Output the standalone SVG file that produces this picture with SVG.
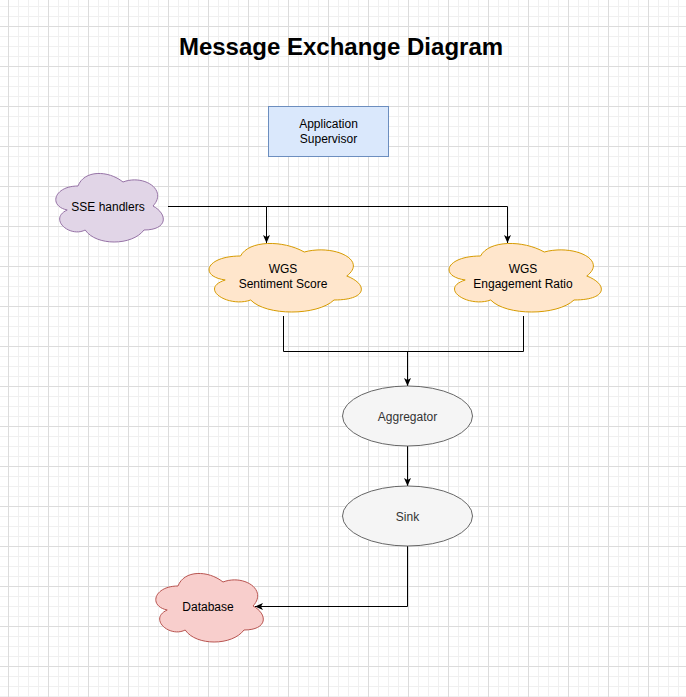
<svg xmlns="http://www.w3.org/2000/svg" width="686" height="697" viewBox="0 0 686 697">
<style>
text{font-family:"Liberation Sans",Arial,Helvetica,sans-serif;font-size:12px;fill:#000;text-anchor:middle}
.title{font-size:24px;font-weight:bold}
.edge{fill:none;stroke:#000;stroke-width:1;marker-end:url(#arr)}
.plain{fill:none;stroke:#000;stroke-width:1}
.gray{fill:#f5f5f5;stroke:#666666;stroke-width:1}
.gtext{fill:#333333}
</style>
<defs>
<pattern id="grid" patternUnits="userSpaceOnUse" x="8" y="26" width="40" height="40">
<path d="M10.5,0V40M20.5,0V40M30.5,0V40M0,10.5H40M0,20.5H40M0,30.5H40" stroke="#f0f0f0" stroke-width="1" fill="none"/>
<path d="M0.5,0V40M0,0.5H40" stroke="#dcdcdc" stroke-width="1" fill="none"/>
</pattern>
<marker id="arr" viewBox="0 0 8 8" refX="8" refY="4" markerWidth="8" markerHeight="8" markerUnits="userSpaceOnUse" orient="auto">
<path d="M0,0.5 L8,4 L0,7.5 L2,4 Z" fill="#000"/>
</marker>
</defs>
<rect width="686" height="697" fill="#ffffff"/>
<rect width="686" height="697" fill="url(#grid)"/>
<text class="title" x="341" y="55">Message Exchange Diagram</text>
<g id="connectors">
<path class="edge" d="M168,206.5 H266.5 V243"/>
<path class="edge" d="M266.5,206.5 H507.5 V243"/>
<path class="plain" d="M283.5,316 V351.5 H523.5 V316"/>
<path class="edge" d="M407.5,351.5 V386"/>
<path class="edge" d="M407.5,446 V486"/>
<path class="edge" d="M407.5,546 V606.5 H255"/>
</g>
<g id="app-supervisor">
<rect x="268.5" y="106.5" width="120" height="50" fill="#dae8fc" stroke="#6c8ebf"/>
<text x="328.5" y="128">Application</text>
<text x="328.5" y="143">Supervisor</text>
</g>
<g id="sse-handlers">
<path d="M78,186 C54,186 48,206 67.2,210 C48,218.8 69.6,238 85.2,230 C96,246 132,246 144,230 C168,230 168,214 153,206 C168,190 144,174 123,182 C108,170 84,170 78,186 Z" fill="#e1d5e7" stroke="#9673a6"/>
<text x="108" y="211">SSE handlers</text>
</g>
<g id="wgs-sentiment">
<path d="M240.5,256 C206.5,256 198,276 225.2,280 C198,288.8 228.6,308 250.7,300 C266,316 317,316 334,300 C368,300 368,284 346.75,276 C368,260 334,244 304.25,252 C283,240 249,240 240.5,256 Z" fill="#ffe6cc" stroke="#d79b00"/>
<text x="283" y="272.5">WGS</text>
<text x="283" y="287.5">Sentiment Score</text>
</g>
<g id="wgs-engagement">
<path d="M480.5,256 C446.5,256 438,276 465.2,280 C438,288.8 468.6,308 490.7,300 C506,316 557,316 574,300 C608,300 608,284 586.75,276 C608,260 574,244 544.25,252 C523,240 489,240 480.5,256 Z" fill="#ffe6cc" stroke="#d79b00"/>
<text x="523" y="272.5">WGS</text>
<text x="523" y="287.5">Engagement Ratio</text>
</g>
<g id="aggregator">
<ellipse class="gray" cx="407.5" cy="416" rx="65" ry="30"/>
<text class="gtext" x="407.5" y="421">Aggregator</text>
</g>
<g id="sink">
<ellipse class="gray" cx="407.5" cy="516" rx="65" ry="30"/>
<text class="gtext" x="407.5" y="521">Sink</text>
</g>
<g id="database">
<path d="M178,586 C154,586 148,606 167.2,610 C148,618.8 169.6,638 185.2,630 C196,646 232,646 244,630 C268,630 268,614 253,606 C268,590 244,574 223,582 C208,570 184,570 178,586 Z" fill="#f8cecc" stroke="#b85450"/>
<text x="208" y="611">Database</text>
</g>
</svg>
